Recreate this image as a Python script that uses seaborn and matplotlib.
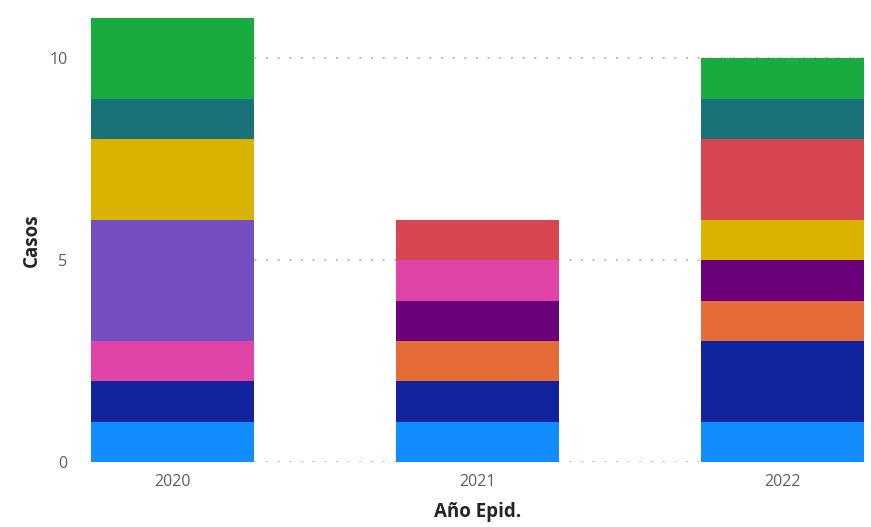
import seaborn as sns
import matplotlib.pyplot as plt
import pandas as pd

# data (cases per year, by category, bottom to top)
years = [2020, 2021, 2022]
categories = ["Cat A", "Cat B", "Cat C", "Cat D", "Cat E",
              "Cat F", "Cat G", "Cat H", "Cat I", "Cat J"]
cases_2020 = [1, 1, 0, 0, 1, 3, 2, 0, 1, 2]
cases_2021 = [1, 1, 1, 1, 1, 0, 0, 1, 0, 0]
cases_2022 = [1, 2, 1, 1, 0, 0, 1, 2, 1, 1]
colors = ["#118DFF", "#12239E", "#E66C37", "#6B007B", "#E044A7",
          "#744EC2", "#D9B300", "#D64550", "#197278", "#1AAB40"]

rows = []
for yr, vals in zip(years, [cases_2020, cases_2021, cases_2022]):
    for cat, v in zip(categories, vals):
        rows.append({"year": yr, "cat": cat, "casos": v})
df = pd.DataFrame(rows)

sns.set_theme(style="white")
plt.rcParams['font.family'] = ['Open Sans', 'DejaVu Sans']

fig = plt.figure(figsize=(8.71, 5.27), dpi=100)
ax = fig.add_axes([91/871, 1 - 462/527, (864 - 91)/871, (462 - 18)/527])

# dotted gridlines behind the bars
for yv in [0, 5, 10]:
    ax.axhline(yv, color="#BDBBB9", linestyle=(0, (1, 5)), linewidth=1.4, zorder=0)

sns.histplot(data=df, x="year", weights="casos", hue="cat",
             hue_order=categories[::-1], palette=dict(zip(categories, colors)),
             multiple="stack", discrete=True, shrink=0.534,
             element="bars", alpha=1, linewidth=0, legend=False, ax=ax)

ax.set_xlim(2020 - 0.267, 2022 + 0.267)
ax.set_ylim(0, 11)
ax.set_xticks(years)
ax.set_xticklabels([str(y) for y in years])
ax.set_yticks([0, 5, 10])
ax.tick_params(axis="both", length=0, labelsize=11.5, colors="#605E5C")
ax.tick_params(axis="y", pad=17)
ax.tick_params(axis="x", pad=9)
for s in ax.spines.values():
    s.set_visible(False)

ax.set_xlabel("Año Epid.", fontsize=13.5, fontweight="bold", color="#252423", labelpad=8)
ax.set_ylabel("Casos", fontsize=13.5, fontweight="bold", color="#252423", labelpad=5)

fig.savefig("out.png", dpi=100)
